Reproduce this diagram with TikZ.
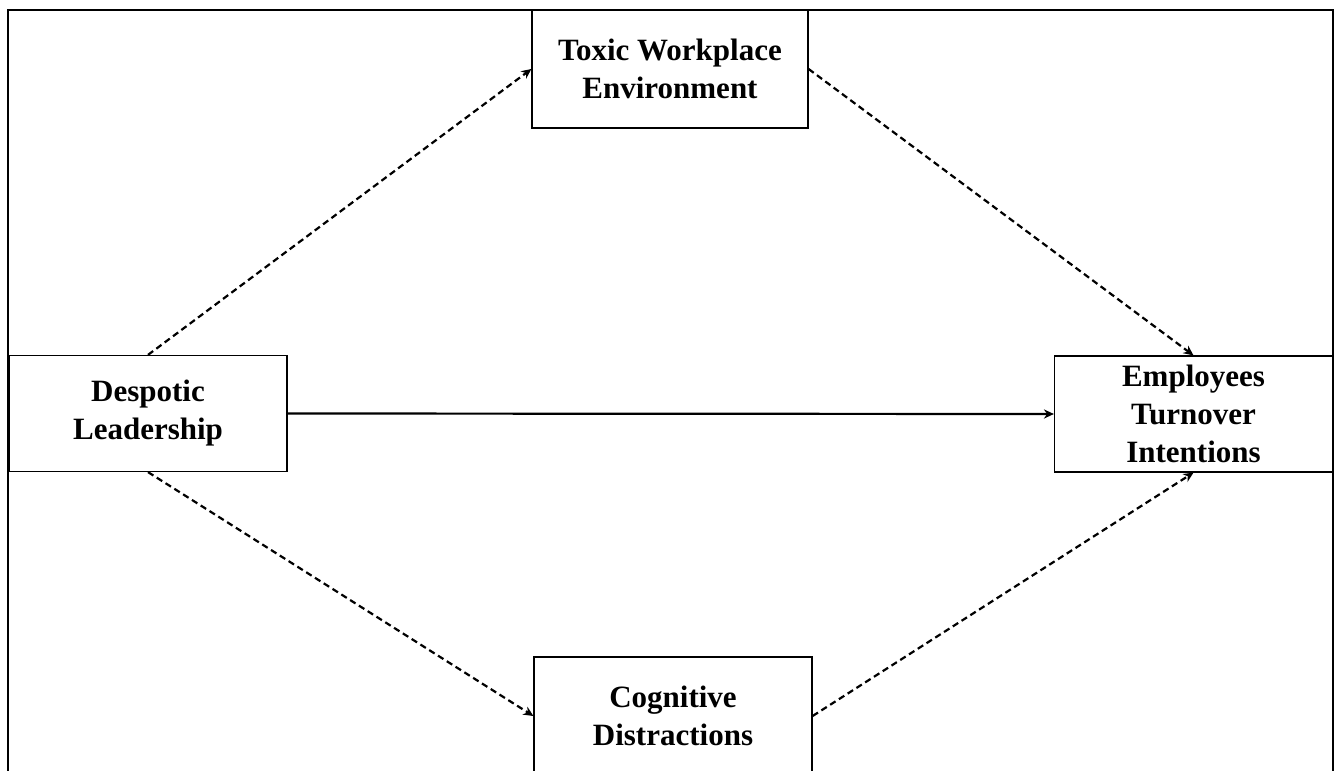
\documentclass[tikz,border=0pt]{standalone}
\usepackage{fontspec}
\setmainfont{Liberation Serif}
\usetikzlibrary{calc, arrows, positioning}
\usetikzlibrary{arrows.meta}

\begin{document}
\begin{tikzpicture}[x=0.5pt,y=-0.5pt,
    box/.style={draw,line width=0.6pt,fill=white,align=center,inner sep=0pt,
        font=\bfseries\fontsize{15.5}{19}\selectfont},
    dasharrow/.style={-{Stealth[length=5pt,width=4.6pt]},line width=1.1pt,dash pattern=on 3.2pt off 2pt},
    fullarrow/.style={-{Stealth[length=5pt,width=4.6pt]},line width=1.1pt}]
        \clip (0,0) rectangle (1335,771);
        % outer frame
        \draw[line width=1.1pt] (8,10) rectangle (1333,800);
        
        \node[box,minimum width=139pt,minimum height=58pt] (D) at (148,413.5) {Despotic\\Leadership};
        \node[box,minimum width=138pt,minimum height=59pt] (T) at (670,69) {Toxic Workplace\\Environment};
        \node[box,minimum width=139pt,minimum height=59pt] (C) at (673,716) {Cognitive\\Distractions};
        \node[box,minimum width=139pt,minimum height=58pt] (E) at (1193.5,414) {Employees\\Turnover\\Intentions};
        
        % paths
        \draw[dasharrow] (D.north) -- (T.west);
        \draw[dasharrow] (T.east) -- (E.north);
        \draw[dasharrow] (D.south) -- (C.west);
        \draw[dasharrow] (C.east) -- (E.south);
        \draw[fullarrow] (D.east) -- (E.west);
    \end{tikzpicture}
\end{document}
